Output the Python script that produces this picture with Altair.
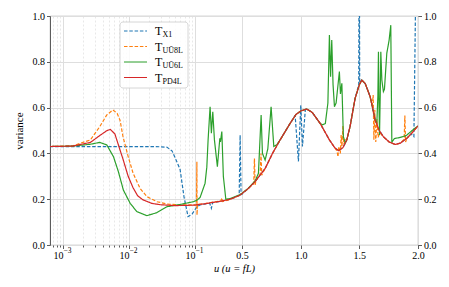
import math
import altair as alt
import pandas as pd

# ---------------- data ----------------
SUBS = ["X1", "UŪ8L", "UŪ6L", "PD4L"]
COLORS = ["#1f77b4", "#ff7f0e", "#2ca02c", "#d62728"]
DASHES = [[3.5, 1.8], [3.5, 1.8], [1, 0], [1, 0]]

TX1 = [
    (0.00063, 0.43), (0.01, 0.43), (0.03, 0.429), (0.0377, 0.427), (0.045, 0.41),
    (0.05, 0.38), (0.0593, 0.33), (0.068, 0.21), (0.0783, 0.124), (0.09, 0.135),
    (0.1, 0.155), (0.117, 0.168), (0.143, 0.175), (0.185, 0.179), (0.225, 0.182),
    (0.239, 0.16), (0.25, 0.185), (0.33, 0.192), (0.40, 0.20), (0.476, 0.216),
    (0.484, 0.48), (0.492, 0.22), (0.50, 0.222), (0.55, 0.245), (0.612, 0.277),
    (0.697, 0.334), (0.76, 0.40), (0.825, 0.459), (0.91, 0.531), (0.953, 0.565),
    (0.981, 0.365), (1.001, 0.61), (1.015, 0.43), (1.04, 0.592), (1.052, 0.594),
    (1.1, 0.578), (1.166, 0.531), (1.245, 0.459), (1.29, 0.425), (1.322, 0.412),
    (1.36, 0.425), (1.393, 0.459), (1.421, 0.517), (1.464, 0.64), (1.495, 0.70),
    (1.499, 1.5), (1.503, 0.71), (1.521, 0.72), (1.55, 0.705), (1.592, 0.648),
    (1.635, 0.546), (1.67, 0.50), (1.705, 0.473), (1.754, 0.45), (1.805, 0.439),
    (1.85, 0.445), (1.905, 0.466), (1.94, 0.485), (1.965, 0.473), (1.99, 1.5),
    (2.0, 1.5),
]

TUU8L = [
    (0.00063, 0.43), (0.0014, 0.433), (0.0026, 0.459), (0.0036, 0.517), (0.0046, 0.568),
    (0.0057, 0.59), (0.0066, 0.575), (0.0073, 0.545), (0.0081, 0.473), (0.0097, 0.386),
    (0.0115, 0.314), (0.0147, 0.247), (0.0187, 0.211), (0.0266, 0.189), (0.0377, 0.179),
    (0.05, 0.176), (0.09, 0.175), (0.112, 0.176), (0.1155, 0.364), (0.1165, 0.131),
    (0.12, 0.176), (0.143, 0.178), (0.185, 0.181), (0.241, 0.186), (0.32, 0.192),
    (0.328, 0.205), (0.336, 0.19), (0.40, 0.20), (0.484, 0.218), (0.55, 0.245),
    (0.60, 0.268), (0.606, 0.378), (0.612, 0.262), (0.618, 0.28), (0.64, 0.30),
    (0.655, 0.31), (0.662, 0.40), (0.668, 0.305), (0.68, 0.318), (0.697, 0.334),
    (0.76, 0.40), (0.825, 0.459), (0.91, 0.531), (0.96, 0.57), (1.0, 0.585),
    (1.052, 0.594), (1.1, 0.578), (1.166, 0.531), (1.245, 0.459), (1.29, 0.425),
    (1.31, 0.41), (1.318, 0.385), (1.325, 0.43), (1.338, 0.40), (1.345, 0.48),
    (1.352, 0.43), (1.36, 0.52), (1.368, 0.44), (1.38, 0.46), (1.393, 0.459),
    (1.421, 0.517), (1.464, 0.64), (1.50, 0.70), (1.521, 0.72), (1.55, 0.705),
    (1.592, 0.648), (1.61, 0.61), (1.618, 0.655), (1.624, 0.46), (1.632, 0.59),
    (1.64, 0.45), (1.65, 0.55), (1.66, 0.47), (1.675, 0.49), (1.705, 0.473),
    (1.754, 0.45), (1.805, 0.439), (1.85, 0.445), (1.882, 0.462), (1.888, 0.565),
    (1.894, 0.45), (1.905, 0.466), (1.95, 0.49), (2.0, 0.52),
]

TUU6L = [
    (0.00063, 0.43), (0.0014, 0.432), (0.0026, 0.44), (0.0036, 0.448), (0.0046, 0.437),
    (0.0058, 0.386), (0.0069, 0.32), (0.0082, 0.24), (0.0104, 0.182), (0.0131, 0.146),
    (0.0186, 0.128), (0.0263, 0.141), (0.0373, 0.167), (0.0593, 0.177), (0.0943, 0.189),
    (0.12, 0.197), (0.143, 0.208), (0.185, 0.269), (0.2, 0.34), (0.211, 0.459),
    (0.228, 0.604), (0.239, 0.488), (0.251, 0.582), (0.265, 0.459), (0.29, 0.342),
    (0.311, 0.466), (0.316, 0.45), (0.328, 0.495), (0.341, 0.30), (0.362, 0.20),
    (0.40, 0.203), (0.484, 0.22), (0.55, 0.246), (0.612, 0.28), (0.64, 0.313),
    (0.663, 0.568), (0.674, 0.40), (0.697, 0.371), (0.72, 0.42), (0.748, 0.604),
    (0.771, 0.43), (0.797, 0.438), (0.825, 0.459), (0.91, 0.531), (0.96, 0.57),
    (1.0, 0.585), (1.052, 0.594), (1.1, 0.578), (1.166, 0.531), (1.185, 0.525),
    (1.21, 0.53), (1.232, 0.62), (1.245, 0.917), (1.255, 0.735), (1.265, 0.895),
    (1.276, 0.70), (1.288, 0.604), (1.302, 0.62), (1.33, 0.757), (1.339, 0.66),
    (1.351, 0.706), (1.364, 0.473), (1.38, 0.445), (1.393, 0.46), (1.421, 0.517),
    (1.464, 0.64), (1.50, 0.70), (1.521, 0.72), (1.55, 0.705), (1.592, 0.648),
    (1.635, 0.546), (1.649, 0.53), (1.658, 0.65), (1.663, 0.844), (1.668, 0.60),
    (1.672, 0.48), (1.678, 0.65), (1.683, 0.844), (1.692, 0.72), (1.705, 0.67),
    (1.714, 0.68), (1.734, 0.837), (1.754, 0.895), (1.768, 0.96), (1.777, 0.45),
    (1.80, 0.465), (1.85, 0.47), (1.90, 0.478), (1.95, 0.50), (2.0, 0.52),
]

TPD4L = [
    (0.00063, 0.43), (0.0014, 0.432), (0.0026, 0.448), (0.0036, 0.478), (0.0046, 0.499),
    (0.0052, 0.505), (0.0061, 0.485), (0.0073, 0.415), (0.0081, 0.375), (0.0097, 0.30),
    (0.0115, 0.25), (0.0135, 0.215), (0.0163, 0.197), (0.022, 0.182), (0.0295, 0.176),
    (0.05, 0.172), (0.1, 0.174), (0.143, 0.178), (0.185, 0.18), (0.241, 0.185),
    (0.33, 0.192), (0.40, 0.20), (0.484, 0.218), (0.55, 0.245), (0.612, 0.277),
    (0.697, 0.334), (0.76, 0.40), (0.825, 0.459), (0.91, 0.531), (0.96, 0.57),
    (1.0, 0.585), (1.052, 0.594), (1.1, 0.578), (1.166, 0.531), (1.245, 0.459),
    (1.29, 0.425), (1.322, 0.412), (1.36, 0.425), (1.393, 0.459), (1.421, 0.517),
    (1.464, 0.64), (1.50, 0.70), (1.521, 0.72), (1.55, 0.705), (1.592, 0.648),
    (1.635, 0.546), (1.67, 0.50), (1.705, 0.473), (1.754, 0.45), (1.805, 0.439),
    (1.85, 0.445), (1.905, 0.466), (1.95, 0.49), (2.0, 0.52),
]

DATA = [TX1, TUU8L, TUU6L, TPD4L]

Y_TICKS = [0.0, 0.2, 0.4, 0.6, 0.8, 1.0]
X_MAJOR = [0.001, 0.01, 0.1, 0.5, 1.0, 1.5, 2.0]
X_MINOR = [0.0007, 0.0008, 0.0009,
           0.002, 0.003, 0.004, 0.005, 0.006, 0.007, 0.008, 0.009,
           0.02, 0.03, 0.04, 0.05, 0.06, 0.07, 0.08, 0.09]
X_EXPONENTS = [(0.001, "−3"), (0.01, "−2"), (0.1, "−1")]
X_DOMAIN = (0.000635, 2.0)

# ---------------- x scale: log below 0.1, linear above ----------------
K = 1.777  # decades per unit of u in the linear part


def to_t(u):
    return math.log10(u) if u < 0.1 else -1 + (u - 0.1) * K


T_EXPR = f"datum.u < 0.1 ? log(datum.u) / LN10 : -1 + (datum.u - 0.1) * {K}"
IS_MINOR = "datum.value < -1.0001 && abs(datum.value - round(datum.value)) > 0.000001"
IS_DECADE = "datum.value <= -0.999"
LABEL_EXPR = (
    f"({IS_MINOR}) ? '' : ({IS_DECADE}) ? '10' : "
    f"format(0.1 + (datum.value + 1) / {K}, '.1f')"
)

FONT = "Liberation Serif"
W, H = 368, 229

xscale = alt.Scale(domain=[to_t(X_DOMAIN[0]), to_t(X_DOMAIN[1])], nice=False, zero=False)
yscale = alt.Scale(domain=[0, 1], nice=False, zero=False)

x_axis = alt.Axis(
    values=[to_t(u) for u in X_MAJOR + X_MINOR],
    labelExpr=LABEL_EXPR,
    labelAlign={"condition": {"test": IS_DECADE, "value": "right"}, "value": "center"},
    title="u (u = fL)",
    titleFontStyle="italic",
    titleFont=FONT, titleFontSize=10.5, titleFontWeight="normal", titlePadding=3,
    labelFont=FONT, labelFontSize=10, labelPadding=2,
    labelFlush=False, labelOverlap=False,
    domain=False, grid=True,
    gridColor={"condition": {"test": IS_MINOR, "value": "#e8e8e8"}, "value": "#dedede"},
    gridDash={"condition": {"test": IS_MINOR, "value": [2, 2]}, "value": []},
    tickSize={"condition": {"test": IS_MINOR, "value": 2}, "value": 3.5},
    tickColor="#333", tickWidth=0.8,
)

y_left = alt.Axis(
    values=Y_TICKS, format=".1f", title="variance",
    titleFont=FONT, titleFontSize=11, titleFontWeight="normal", titlePadding=8,
    labelFont=FONT, labelFontSize=10, labelPadding=2,
    domain=False, grid=True, gridColor="#dedede",
    tickSize=3.5, tickColor="#333", tickWidth=0.8, labelFlush=False,
)
y_right = alt.Axis(
    orient="right", values=Y_TICKS, format=".1f", title=None,
    labelFont=FONT, labelFontSize=10, labelPadding=2,
    domain=False, grid=False,
    tickSize=3.5, tickColor="#333", tickWidth=0.8, labelFlush=False,
)

# every series layer carries the same axis spec so that they merge into one axis
line_layers = []
for pts, col, dash in zip(DATA, COLORS, DASHES):
    df = pd.DataFrame(pts, columns=["u", "v"])
    line_layers.append(
        alt.Chart(df)
        .transform_calculate(t=T_EXPR)
        .mark_line(color=col, strokeDash=dash, strokeWidth=1.2, clip=True)
        .encode(
            x=alt.X("t:Q", scale=xscale, axis=x_axis),
            y=alt.Y("v:Q", scale=yscale, axis=y_left),
        )
    )
lines = alt.layer(*line_layers)

# invisible layer that carries the right-hand y axis
right_axis = (
    alt.Chart(pd.DataFrame(TPD4L, columns=["u", "v"]))
    .transform_calculate(t=T_EXPR)
    .mark_point(opacity=0)
    .encode(
        x=alt.X("t:Q", scale=xscale, axis=x_axis),
        y=alt.Y("v:Q", scale=yscale, axis=y_right),
    )
)

# exponents of the 10^k tick labels
exponents = (
    alt.Chart(pd.DataFrame(X_EXPONENTS, columns=["u", "e"]))
    .transform_calculate(t=T_EXPR)
    .mark_text(font=FONT, fontSize=7.5, align="left", baseline="alphabetic", dx=0.5,
               color="black")
    .encode(
        x=alt.X("t:Q", scale=xscale, axis=x_axis),
        y=alt.value(H + 7.5),
        text="e:N",
    )
)

# ---------------- legend ----------------
one = pd.DataFrame({"a": [0]})
legend_layers = [
    alt.Chart(one).mark_rect(fill="white", fillOpacity=0.85, stroke="#cccccc",
                             strokeWidth=0.8, cornerRadius=3)
    .encode(x=alt.value(70), x2=alt.value(138), y=alt.value(6), y2=alt.value(72))
]
for i, (sub, col, dash) in enumerate(zip(SUBS, COLORS, DASHES)):
    yr = 15 + i * 15.5
    legend_layers.append(
        alt.Chart(one).mark_rule(color=col, strokeDash=dash, strokeWidth=1.2)
        .encode(x=alt.value(74), x2=alt.value(97), y=alt.value(yr))
    )
    legend_layers.append(
        alt.Chart(one).mark_text(text="T", font=FONT, fontSize=12, align="left",
                                 baseline="alphabetic", color="black")
        .encode(x=alt.value(105), y=alt.value(yr + 4))
    )
    legend_layers.append(
        alt.Chart(one).mark_text(text=sub, font=FONT, fontSize=8, align="left",
                                 baseline="alphabetic", color="black")
        .encode(x=alt.value(112.5), y=alt.value(yr + 6))
    )

chart = (
    alt.layer(lines, right_axis, exponents, *legend_layers)
    .resolve_axis(y="independent")
    .properties(
        width=W, height=H,
        autosize=alt.AutoSizeParams(type="none"),
        padding={"left": 42, "top": 8, "right": 23, "bottom": 34},
        background="white",
    )
    .configure_view(stroke="#333333", strokeWidth=0.9)
    .configure_axis(labelColor="black", titleColor="black")
)

chart.save("out.html", embed_options={"renderer": "svg", "actions": False})
